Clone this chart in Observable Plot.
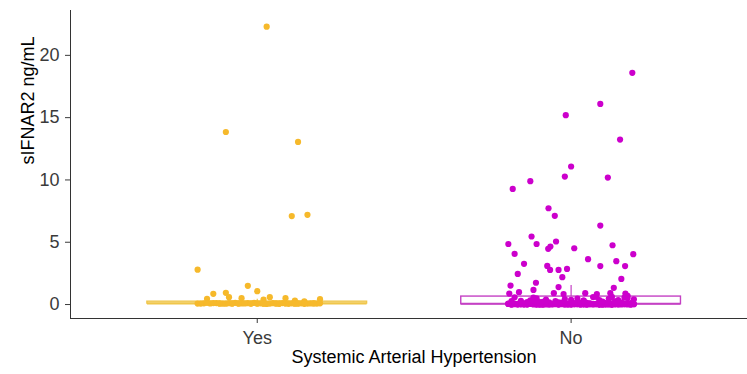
<!DOCTYPE html>
<html><head><meta charset="utf-8">
<script src="https://cdn.jsdelivr.net/npm/d3@7"></script>
<script src="https://cdn.jsdelivr.net/npm/@observablehq/plot@0.6"></script>
<style>body{margin:0;background:#fff;overflow:hidden}</style>
</head><body><div id="chart"></div>
<script>
const categories = ["Yes", "No"];
const yTicks = [0, 5, 10, 15, 20];
const xTitle = "Systemic Arterial Hypertension";
const yTitle = "sIFNAR2 ng/mL";

// Yes group: values and horizontal jitter (category units)
const yesHigh = [22.3, 13.85, 13.05, 7.1, 7.2, 2.8, 1.5, 1.07, 0.94, 0.86, 0.59, 0.51, 0.51, 0.46, 0.59, 0.40, 0.32, 0.26, 0.43];
const yesHighJitter = [0.03, -0.10, 0.13, 0.11, 0.16, -0.19, -0.03, 0.00, -0.10, -0.14, 0.04, 0.09, -0.05, -0.16, -0.09, 0.02, 0.12, 0.15, 0.20];
const yesLow = [0.08,0.10,0.09,0.12,0.09,0.07,0.11,0.14,0.08,0.09,
  0.11,0.08,0.13,0.09,0.10,0.08,0.06,0.08,0.11,0.09,
  0.09,0.12,0.09,0.08,0.10,0.07,0.08,0.10,0.06,0.08,
  0.09,0.10,0.08,0.08,0.12,0.07,0.09,0.09,0.08,0.06,
  0.08,0.10,0.09,0.10,0.09,0.14,0.09,0.07,0.08,0.10,
  0.08,0.08,0.06,0.09,0.08];
const yesLowJitter = [-0.19,-0.17,-0.15,-0.13,-0.12,-0.10,-0.09,-0.07,-0.06,-0.05,
  -0.03,-0.02,-0.01,0.00,0.01,0.02,0.03,0.04,0.05,0.06,
  0.07,0.08,0.09,0.10,0.11,0.12,0.13,0.14,0.15,0.16,
  0.17,0.18,0.19,-0.18,-0.14,-0.11,-0.08,-0.04,0.00,0.03,
  0.06,0.09,0.12,0.15,0.18,-0.16,-0.06,0.02,0.10,0.20,
  -0.12,-0.02,0.07,0.13,-0.08];

// No group
const noHigh = [18.6,16.1,15.2,13.24,11.08,10.27,10.19,9.9,9.28,7.73,
  7.12,6.34,5.46,4.86,4.86,5.06,4.65,4.47,4.52,4.76,
  4.04,4.07,3.27,3.1,2.78,2.78,2.86,3.64,3.09,3.48,
  3.09,2.46,2.2,2.06,1.52,1.75,1.4,1.34,0.99,0.88,
  1.17,0.91,0.84,0.91,0.84,0.91,0.88,0.70];
const noHighJitter = [0.195,0.093,-0.017,0.156,0.00,-0.02,0.117,-0.13,-0.186,-0.072,
  -0.052,0.093,-0.126,-0.20,-0.11,-0.048,-0.066,-0.073,0.01,0.132,
  0.198,-0.18,-0.15,-0.076,-0.067,-0.04,-0.013,0.054,0.093,0.144,
  0.172,-0.17,-0.028,0.16,-0.193,-0.112,-0.04,0.136,-0.166,-0.197,
  -0.12,-0.055,-0.024,0.045,0.082,0.125,0.173,0.18];
const noZero = [0.01,0.03,0.00,0.05,0.02,0.04,0.01,0.06,0.00,0.03,
  0.02,0.05,0.01,0.04,0.00,0.02,0.06,0.03,0.01,0.05,
  0.00,0.02,0.04,0.01,0.03,0.05,0.00,0.02,0.06,0.01,
  0.04,0.03,0.00,0.05,0.02,0.01,0.04,0.06,0.03,0.00,
  0.02,0.05,0.01,0.03,0.04,0.00,0.06,0.02,0.01,0.05,
  0.03,0.00,0.04,0.02,0.06,0.01,0.03,0.05,0.00,0.02,
  0.04,0.01,0.06,0.03,0.00,0.05,0.02,0.04,0.01,0.03,
  0.00,0.06,0.02,0.05,0.01,0.04,0.03,0.00,0.02,0.05,
  0.01,0.06,0.03,0.04,0.00,0.02,0.05,0.01,0.03,0.06,
  0.02,0.00,0.04,0.01,0.05,0.03,0.02,0.06,0.00,0.04];
const noMid = [0.08,0.15,0.22,0.31,0.12,0.40,0.10,0.27,0.48,0.18,
  0.35,0.09,0.55,0.20,0.14,0.44,0.25,0.07,0.60,0.33,
  0.11,0.38,0.17,0.52,0.29,0.13,0.46,0.21,0.09,0.58,
  0.36,0.16,0.24,0.50,0.11,0.42,0.19,0.62,0.28,0.14,
  0.56,0.32,0.23,0.61];
const noLowJitter = [-0.19,-0.05,0.09,-0.13,0.03,0.17,-0.09,0.12,-0.01,0.19,-0.16,0.06,-0.07,0.14,-0.11,0.01,0.18,-0.03,0.10,-0.18,0.05,-0.14,0.15,-0.08,0.02,-0.20,0.11,-0.04,0.16,-0.12,0.07,-0.01,0.13,-0.17,0.04,-0.10,0.20,-0.06,0.08,-0.15,0.00,0.17,-0.02,0.12,-0.09,0.19,-0.18,0.06,
  0.10,-0.13,0.03,-0.19,0.15,-0.07,0.01,0.18,-0.11,0.08,-0.04,0.14,-0.16,0.05,-0.01,0.20,-0.09,0.11,-0.14,0.02,0.16,-0.06,0.09,-0.20,0.13,-0.03,0.07,-0.17,0.19,-0.10,0.04,-0.12,0.12,-0.05,0.17,-0.15,0.00,0.10,-0.08,0.15,-0.18,0.06,-0.02,0.13,-0.11,0.03,0.18,-0.14,
  -0.06,0.11,-0.17,0.08,-0.01,0.16,-0.12,0.04,0.19,-0.08,0.13,-0.19,0.02,-0.04,0.09,-0.15,0.17,-0.10,0.05,-0.02,0.14,-0.20,0.07,-0.13,0.11,0.00,-0.07,0.18,-0.16,0.03,0.12,-0.09,0.06,-0.18,0.15,-0.03,0.10,-0.11,0.01,0.20,-0.14,0.08,-0.05,0.16,-0.12,0.04,-0.08,0.13];

const pointColor = {Yes: "#F6B92B", No: "#CC00CC"};
const boxColor = {Yes: "#F0C64A", No: "#C441C4"};

const yesValues = [...yesHigh, ...yesLow];
const yesJitter = [...yesHighJitter, ...yesLowJitter];
const noValues = [...noHigh, ...noZero, ...noMid];
const noJitter = [...noHighJitter, ...noLowJitter];

const groups = {Yes: {values: yesValues, jitter: yesJitter}, No: {values: noValues, jitter: noJitter}};
const rows = [];
categories.forEach((c, ci) => {
  const g = groups[c];
  const n = Math.min(g.values.length, g.jitter.length);
  for (let i = 0; i < n; i++) rows.push({group: c, pos: ci + 1 + g.jitter[i], value: g.values[i]});
});

function stats(vals) {
  const s = vals.slice().sort(d3.ascending);
  const q1 = d3.quantileSorted(s, 0.25), med = d3.quantileSorted(s, 0.5), q3 = d3.quantileSorted(s, 0.75);
  const iqr = q3 - q1;
  const hi = d3.max(s.filter(v => v <= q3 + 1.5 * iqr));
  const lo = d3.min(s.filter(v => v >= q1 - 1.5 * iqr));
  return {q1, med, q3, hi, lo};
}
const boxes = categories.map((c, i) => ({group: c, pos: i + 1, ...stats(groups[c].values)}));
const halfWidth = 0.35;

const marks = [
  Plot.frame({anchor: "left", stroke: "#333"}),
  Plot.frame({anchor: "bottom", stroke: "#333"})
];
categories.forEach(c => {
  const b = boxes.filter(d => d.group === c);
  marks.push(
    Plot.ruleX(b, {x: "pos", y1: "q3", y2: "hi", stroke: boxColor[c], strokeWidth: 1.2}),
    Plot.ruleX(b, {x: "pos", y1: "lo", y2: "q1", stroke: boxColor[c], strokeWidth: 1.2}),
    Plot.rect(b, {x1: d => d.pos - halfWidth, x2: d => d.pos + halfWidth, y1: "q1", y2: "q3", fill: "white", stroke: boxColor[c], strokeWidth: 1.4}),
    Plot.ruleY(b, {x1: d => d.pos - halfWidth, x2: d => d.pos + halfWidth, y: "med", stroke: boxColor[c], strokeWidth: 2})
  );
});
categories.forEach(c => {
  marks.push(Plot.dot(rows.filter(d => d.group === c), {x: "pos", y: "value", r: 3.1, fill: pointColor[c]}));
});
marks.push(
  Plot.text([xTitle], {frameAnchor: "bottom", dy: 44, dx: 5, fill: "black", fontSize: 18}),
  Plot.text([yTitle], {frameAnchor: "left", dx: -42, rotate: -90, fill: "black", fontSize: 18})
);

const chart = Plot.plot({
  width: 747, height: 374,
  marginLeft: 70, marginRight: 0, marginTop: 10, marginBottom: 56,
  style: {fontFamily: "'Liberation Sans', Arial, sans-serif", fontSize: "18px", color: "#3a3a3a", background: "#fff"},
  x: {domain: [0.405, 2.562], ticks: [1, 2], tickFormat: d => categories[d - 1], tickSize: 5, tickPadding: 8, label: null},
  y: {domain: [-1.12, 23.6], ticks: yTicks, tickSize: 5, tickPadding: 6, label: null},
  marks
});
document.getElementById("chart").appendChild(chart);
</script>
</body></html>
